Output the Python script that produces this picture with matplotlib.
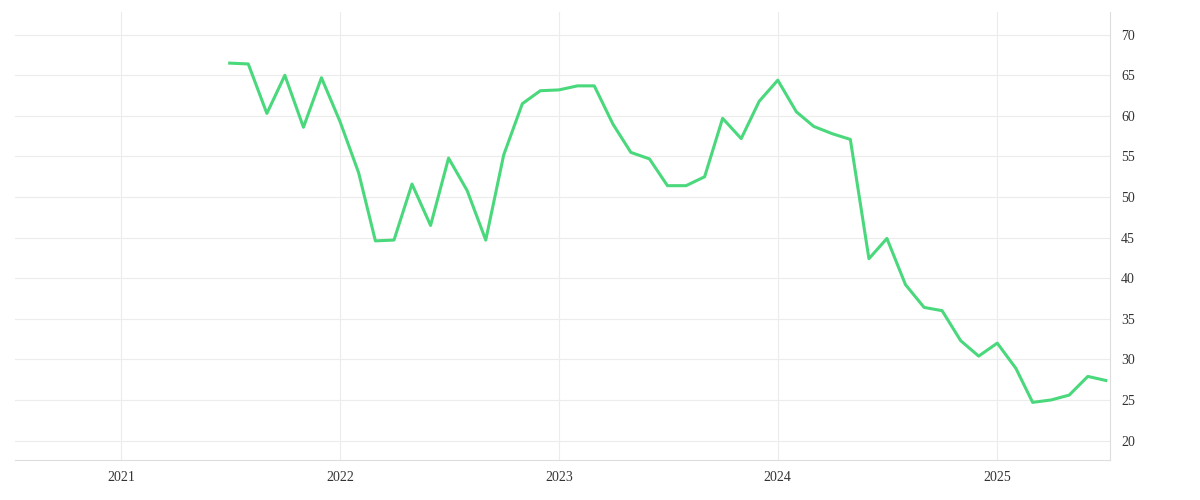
import numpy as np
import pandas as pd
import matplotlib.pyplot as plt
import matplotlib.dates as mdates

months = pd.date_range("2021-07-01", "2025-07-01", freq="MS")
values = [66.5, 66.4, 60.3, 65.0, 58.6, 64.7,
          59.3, 53.0, 44.6, 44.7, 51.6, 46.5, 54.8, 50.8, 44.7, 55.2, 61.5, 63.1,
          63.2, 63.7, 63.7, 59.0, 55.5, 54.7, 51.4, 51.4, 52.5, 59.7, 57.2, 61.8,
          64.4, 60.5, 58.7, 57.8, 57.1, 42.4, 44.9, 39.2, 36.4, 36.0, 32.3, 30.4,
          32.0, 28.9, 24.7, 25.0, 25.6, 27.9, 27.4]
year_ticks = pd.to_datetime(["2021-01-01", "2022-01-01", "2023-01-01", "2024-01-01", "2025-01-01"])
y_ticks = np.arange(20, 75, 5)

plt.rcParams["font.family"] = ["Liberation Serif", "DejaVu Serif"]
fig = plt.figure(figsize=(12, 5), dpi=100)
ax = fig.add_axes([0.0125, 0.08, 0.9125, 0.896])

ax.plot(months, values, color="#4ad87c", lw=2.2)

ax.set_xlim(pd.Timestamp("2020-07-08"), pd.Timestamp("2025-07-08"))
ax.set_ylim(17.6, 72.8)
ax.set_xticks(year_ticks)
ax.xaxis.set_major_formatter(mdates.DateFormatter("%Y"))
ax.set_yticks(y_ticks)
ax.yaxis.tick_right()
ax.grid(True, color="#ececec", lw=0.8)
for s in ["top", "left"]:
    ax.spines[s].set_visible(False)
ax.spines["right"].set_color("#dddddd")
ax.spines["bottom"].set_color("#dddddd")
ax.tick_params(length=0, labelsize=10, colors="#333333", pad=8)

fig.savefig("out.png")
